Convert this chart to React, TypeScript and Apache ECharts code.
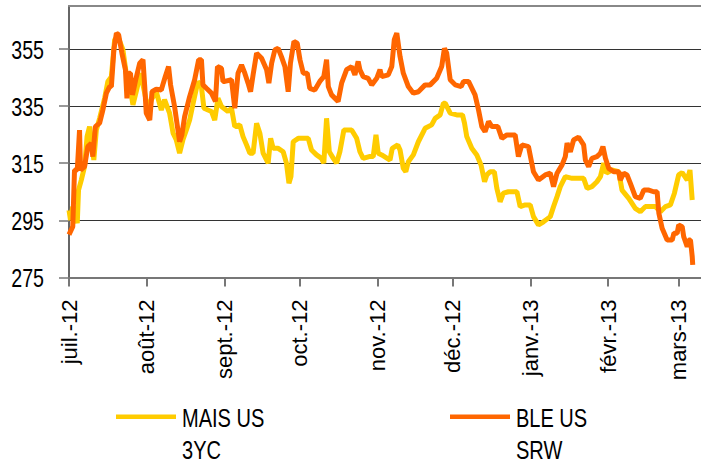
import React, { useEffect, useRef } from 'react';
import * as echarts from 'echarts';

// X axis: days since 1 July 2012
const monthStartDays = [0, 31, 62, 92, 123, 153, 184, 215, 243];
const monthLabels = ['juil.-12', 'août-12', 'sept.-12', 'oct.-12', 'nov.-12', 'déc.-12', 'janv.-13', 'févr.-13', 'mars-13'];
const yTicks = [275, 295, 315, 335, 355];

const seriesNames = ['MAIS US 3YC', 'BLE US SRW'];
const legendLines = [
  ['MAIS US', '3YC'],
  ['BLE US', 'SRW'],
];
const seriesColors = ['#FFCC00', '#FF6600'];

const maisDays = [0, 0.6, 1.5, 3.3, 3.8, 4.9, 6.2, 7.2, 8.2, 9.1, 9.9, 10.9, 12.2, 14.2, 15.5, 16.9, 18.2, 19.5, 21.5, 22.8, 24.2, 25.5, 26.8, 28.5, 30.2, 31.5, 32.8, 34.8, 36.8, 38.1, 40.1, 41.5, 42.8, 44.1, 45.4, 46.8, 48.1, 49.8, 51.4, 52.8, 53.8, 55.4, 56.8, 58.1, 59.4, 60.8, 63.4, 64.8, 66.1, 68.1, 69.4, 70.8, 72.1, 73.4, 74.8, 76.1, 77.4, 79.4, 80.4, 81.4, 83.4, 85.4, 86.7, 87.7, 88.5, 89.4, 91.4, 95.4, 96.7, 98.7, 100.7, 101.6, 102.7, 103.8, 105.4, 106.7, 108.0, 109.6, 112.7, 114.7, 116.0, 117.3, 119.7, 121.3, 122.4, 123.3, 124.7, 128.0, 128.9, 131.1, 132.0, 133.3, 134.3, 135.3, 137.3, 139.3, 142.0, 144.6, 146.0, 148.0, 149.3, 150.0, 152.0, 154.6, 156.9, 157.7, 158.6, 160.6, 162.6, 164.3, 165.7, 166.6, 167.9, 169.6, 170.6, 171.9, 173.2, 175.2, 178.6, 179.9, 181.9, 183.9, 185.2, 187.2, 189.2, 191.9, 193.2, 194.6, 195.9, 197.9, 200.6, 205.2, 206.6, 208.5, 210.5, 211.9, 213.2, 214.3, 216.5, 219.2, 220.5, 223.2, 225.8, 227.8, 229.8, 233.8, 235.8, 237.8, 239.8, 241.4, 243.1, 244.5, 246.5, 247.6, 248.5];
const maisValues = [298.6, 295.1, 299.8, 294, 305.6, 309.1, 313.8, 324.3, 327.8, 322, 316.1, 326.6, 330.7, 337.7, 343.6, 345.3, 358.2, 359.3, 354.7, 346.5, 342.4, 335.4, 340, 346.5, 339.5, 333.6, 337.2, 340, 333.6, 337.2, 332.5, 325.5, 323.1, 318.5, 323.1, 326.6, 330.1, 337.2, 343.6, 341.8, 334.2, 333.6, 333.1, 330.1, 337.7, 334.8, 333.1, 334.2, 327.8, 328.4, 324.3, 321.4, 318.5, 318.5, 329, 325.5, 318.5, 315, 323.7, 320.2, 320.2, 319, 315, 308, 310.3, 322.5, 323.7, 323.7, 319.6, 317.9, 316.7, 315, 330.7, 319, 316.7, 315, 319, 326.6, 326.6, 323.7, 319, 316.7, 317.3, 317.3, 324.9, 318.5, 317.9, 316.1, 320.2, 321.4, 319.6, 313.2, 312, 315.5, 317.9, 322.5, 327.2, 328.4, 330.7, 331.9, 336, 336, 332.5, 331.9, 331.9, 329, 324.3, 320.2, 317.9, 314.4, 308.5, 310.9, 312, 312, 306.2, 301.5, 304.5, 305, 305, 299.8, 300.4, 300.4, 296.3, 293.4, 294.5, 296.3, 299.8, 303.3, 306.8, 310.3, 309.7, 309.7, 306.2, 306.8, 308.5, 310.3, 315, 311.5, 312.6, 312, 305.6, 302.7, 299.2, 298, 299.8, 299.8, 298, 299.8, 300.4, 304.5, 310.9, 311.7, 309.1, 312.6, 302.1];

const bleDays = [0, 1.5, 2.2, 3.3, 4.2, 4.6, 6.2, 7.5, 8.9, 9.5, 10.5, 12.2, 13.5, 14.9, 16.2, 16.9, 17.9, 18.9, 19.8, 21.1, 22.5, 23.1, 23.8, 24.5, 25.3, 26.6, 28.2, 29.5, 30.2, 30.8, 32.2, 33.1, 34.8, 36.8, 37.6, 38.4, 39.7, 40.5, 42.1, 44.1, 45.0, 46.1, 48.1, 50.1, 51.7, 52.8, 53.4, 54.8, 56.8, 58.4, 59.2, 60.8, 61.4, 62.1, 64.8, 66.1, 67.4, 68.8, 70.1, 71.4, 72.4, 73.4, 74.8, 76.8, 78.8, 79.7, 80.8, 82.1, 83.4, 84.7, 86.1, 87.4, 88.3, 89.7, 91.0, 92.1, 93.4, 95.0, 96.0, 98.0, 100.0, 101.6, 102.7, 103.4, 104.7, 107.3, 108.7, 110.7, 112.7, 114.0, 115.3, 116.0, 117.3, 119.3, 120.7, 122.7, 124.0, 124.7, 127.3, 128.7, 129.7, 130.7, 132.0, 133.3, 135.3, 137.3, 139.3, 142.0, 144.0, 146.6, 148.6, 149.7, 150.6, 152.0, 154.0, 156.4, 157.3, 159.3, 161.9, 163.3, 164.6, 165.9, 167.3, 168.6, 171.0, 172.6, 174.6, 177.9, 179.2, 180.6, 183.2, 185.2, 187.2, 189.9, 191.9, 193.2, 194.6, 196.6, 197.9, 198.6, 199.9, 201.2, 203.2, 205.2, 205.9, 207.2, 208.5, 210.5, 211.9, 212.9, 213.9, 215.2, 217.2, 219.2, 219.8, 221.2, 222.5, 223.8, 225.8, 227.8, 229.2, 231.2, 233.1, 234.5, 235.2, 236.5, 238.5, 240.5, 241.2, 242.5, 243.1, 244.5, 245.1, 246.5, 247.1, 247.8, 248.5, 248.7];
const bleValues = [290, 292.8, 312.6, 312.6, 326.6, 312.6, 313.8, 320.8, 322, 317.3, 327.8, 329, 333.6, 339.5, 341.8, 341.8, 354.7, 360.5, 359.9, 353.5, 347.7, 337.7, 346.5, 346.5, 338.9, 344.2, 350, 351.2, 341.8, 332.5, 330.1, 340, 340.9, 340.6, 343, 345.3, 348.8, 342.4, 334.8, 322.5, 324.9, 331.3, 338.3, 344.2, 351.2, 351.2, 342.4, 341.2, 339.5, 336.6, 348.8, 348.2, 343.6, 343.6, 344.2, 334.2, 346.5, 349.4, 346.5, 343, 340, 345.9, 353.5, 351.7, 347.7, 343, 350, 354.7, 355.2, 352.3, 348.8, 340, 350, 357.6, 357, 351.2, 346.5, 346.5, 341.2, 340.6, 343.6, 345.3, 351.2, 341.8, 338.9, 336.6, 343, 347.7, 348.8, 345.9, 350.6, 347.7, 345.3, 344.7, 342.4, 344.7, 347.7, 345.3, 345.9, 348.8, 358.2, 360.5, 352.3, 346.5, 341.8, 339.5, 340, 342.4, 342.4, 344.7, 348.8, 355.2, 353.5, 344.2, 342.4, 341.8, 343.6, 343.6, 338.9, 333.6, 327.8, 326, 329.6, 327.8, 327.8, 323.7, 324.9, 324.9, 317.3, 321.4, 320.8, 312, 309.1, 310.9, 311.5, 306.8, 311.5, 314.4, 317.3, 322, 319, 323.1, 324.1, 321.4, 316.1, 313.8, 316.7, 317.3, 318.5, 320.8, 316.7, 313.2, 312, 312, 309.1, 311.5, 310.9, 308, 303.3, 302.7, 305.6, 305.6, 305, 305, 297.5, 292.2, 288.1, 288.1, 290.5, 290.5, 293.4, 292.8, 289.3, 285.8, 288.1, 288.1, 282.3, 279.4];

const X_MAX = 252;
const FONT = "'Liberation Sans', Arial, sans-serif";
const GRID_LEFT = 69;

function zip(d: number[], v: number[]) {
  return d.map((x, i) => [x, v[i]]);
}

export default function App() {
  const ref = useRef<HTMLDivElement>(null);
  useEffect(() => {
    if (!ref.current) return;
    const chart = echarts.init(ref.current, undefined, { renderer: 'svg' });
    chart.setOption({
      animation: false,
      grid: { left: GRID_LEFT, right: 0, top: 6, bottom: 187.5, containLabel: false },
      xAxis: [
        {
          type: 'value',
          min: 0,
          max: X_MAX,
          splitLine: { show: false },
          axisLine: { show: true, lineStyle: { color: '#777', width: 2 } },
          axisTick: { show: true, length: 9, customValues: monthStartDays, lineStyle: { color: '#777', width: 2 } },
          axisLabel: {
            customValues: monthStartDays,
            rotate: 90,
            margin: 22,
            fontSize: 22,
            fontFamily: FONT,
            color: '#000',
            formatter: (v: number) => monthLabels[monthStartDays.indexOf(Math.round(v))] ?? '',
          },
        },
        {
          type: 'value',
          position: 'top',
          min: 0,
          max: X_MAX,
          splitLine: { show: false },
          axisLine: { show: true, lineStyle: { color: '#888', width: 2 } },
          axisTick: { show: false },
          axisLabel: { show: false },
        },
      ],
      yAxis: {
        type: 'value',
        min: 275,
        max: 370,
        interval: 20,
        axisLine: { show: true, lineStyle: { color: '#666', width: 2 } },
        axisTick: { show: true, length: 10, customValues: yTicks, lineStyle: { color: '#777', width: 1.5 } },
        splitLine: { show: true, lineStyle: { color: '#333', width: 1.2 } },
        axisLabel: { show: false },
      },
      series: [
        {
          name: seriesNames[0],
          type: 'line',
          showSymbol: false,
          color: seriesColors[0],
          lineStyle: { width: 5, color: seriesColors[0] },
          data: zip(maisDays, maisValues),
        },
        {
          name: seriesNames[1],
          type: 'line',
          showSymbol: false,
          color: seriesColors[1],
          lineStyle: { width: 5, color: seriesColors[1] },
          data: zip(bleDays, bleValues),
        },
      ],
    });

    // Condensed y-axis labels placed through the axis scale
    const graphics: any[] = yTicks.map((t) => {
      const py = chart.convertToPixel({ yAxisIndex: 0 }, t) as number;
      return {
        type: 'text',
        x: GRID_LEFT - 25,
        y: py + 1,
        scaleX: 0.77,
        silent: true,
        style: {
          text: String(t),
          fontSize: 25.5,
          fontFamily: FONT,
          fill: '#000',
          align: 'right',
          verticalAlign: 'middle',
        },
      };
    });

    // Legend (line key + two-line condensed label)
    const legendX = [116, 450];
    legendLines.forEach((lines, i) => {
      const x0 = legendX[i];
      graphics.push({
        type: 'rect',
        silent: true,
        shape: { x: x0, y: 414.5, width: 60, height: 4.5 },
        style: { fill: seriesColors[i] },
      });
      lines.forEach((line, j) => {
        graphics.push({
          type: 'text',
          x: x0 + 66,
          y: 418 + j * 32,
          scaleX: 0.77,
          silent: true,
          style: {
            text: line,
            fontSize: 26,
            fontFamily: FONT,
            fill: '#000',
            align: 'left',
            verticalAlign: 'middle',
          },
        });
      });
    });

    chart.setOption({ graphic: graphics });
    return () => chart.dispose();
  }, []);
  return <div ref={ref} style={{ position: 'absolute', left: 0, top: 0, width: 701, height: 465 }} />;
}
